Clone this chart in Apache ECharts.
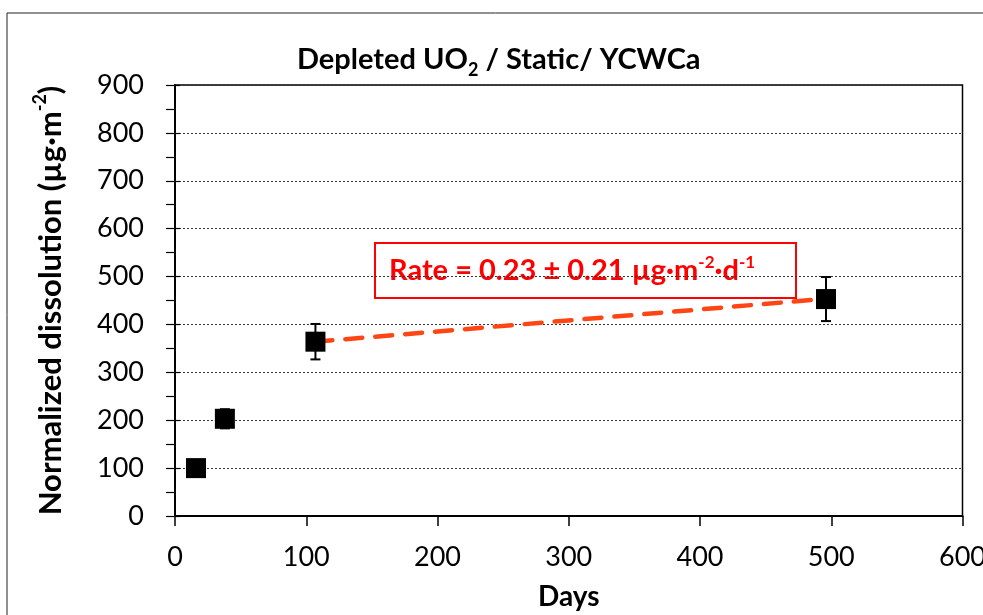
<!DOCTYPE html>
<html>
<head>
<meta charset="utf-8">
<script src="https://cdn.jsdelivr.net/npm/echarts@6/dist/echarts.min.js"></script>
<style>
  html, body { margin: 0; padding: 0; background: #fff; }
  #chart { width: 983px; height: 615px; }
</style>
</head>
<body>
<div id="chart"></div>
<script>
// Measured dissolution of depleted UO2 under static YCWCa conditions
const days = [16, 38, 107, 496];
const dissolution = [100, 203, 364, 453];
const dissolutionErr = [8, 20, 37, 46];

// Linear fit over the later points (rate 0.23 µg·m⁻²·d⁻¹)
const fitDays = [107, 496];
const fitValues = [364, 453.5];

const xTicks = [0, 100, 200, 300, 400, 500, 600];
const yTicks = [0, 100, 200, 300, 400, 500, 600, 700, 800, 900];

const FONT = 'Lato';

const chart = echarts.init(document.getElementById('chart'), null, { renderer: 'canvas' });

const points = days.map((d, i) => [d, dissolution[i]]);
const errRows = days.map((d, i) => [d, dissolution[i] - dissolutionErr[i], dissolution[i] + dissolutionErr[i]]);
const fitLine = fitDays.map((d, i) => [d, fitValues[i]]);

const option = {
  backgroundColor: '#fff',
  animation: false,
  title: {
    text: '{b|Depleted UO}{s|2}{b| / Static/ YCWCa}',
    left: 292,
    top: 36,
    textStyle: {
      rich: {
        b: { fontFamily: FONT, fontWeight: 'bold', fontSize: 29, color: '#000', lineHeight: 38 },
        s: { fontFamily: FONT, fontWeight: 'bold', fontSize: 18, color: '#000', verticalAlign: 'bottom', lineHeight: 38 }
      }
    }
  },
  grid: {
    left: 175, top: 85, right: 20.5, bottom: 99,
    outerBoundsMode: 'none',
    containLabel: false,
    show: true, borderColor: '#000', borderWidth: 1.5
  },
  xAxis: {
    type: 'value',
    min: xTicks[0], max: xTicks[xTicks.length - 1], interval: 100,
    name: 'Days',
    nameLocation: 'middle',
    nameGap: 67,
    nameTextStyle: { fontFamily: FONT, fontWeight: 'bold', fontSize: 28, color: '#000' },
    axisLine: { show: true, onZero: false, lineStyle: { color: '#000', width: 2 } },
    axisTick: { show: true, inside: false, length: 10, lineStyle: { color: '#000', width: 1.5 } },
    axisLabel: { fontFamily: FONT, fontSize: 27, color: '#000', margin: 28 },
    splitLine: { show: false }
  },
  yAxis: [{
    type: 'value',
    min: yTicks[0], max: yTicks[yTicks.length - 1], interval: 100,
    name: '{b|Normalized dissolution (µg·m}{s|-2}{b|)}',
    nameLocation: 'middle',
    nameGap: 104,
    nameRotate: 90,
    nameTextStyle: {
      rich: {
        b: { fontFamily: FONT, fontWeight: 'bold', fontSize: 31, color: '#000', lineHeight: 40 },
        s: { fontFamily: FONT, fontWeight: 'bold', fontSize: 18, color: '#000', verticalAlign: 'top', lineHeight: 40 }
      }
    },
    axisLine: { show: true, lineStyle: { color: '#000', width: 2 } },
    axisTick: { show: true, inside: false, length: 9, lineStyle: { color: '#000', width: 1.2 } },
    minorTick: { show: true, splitNumber: 2, length: 9, lineStyle: { color: '#000', width: 1.2 } },
    axisLabel: { fontFamily: FONT, fontSize: 27, color: '#000', margin: 31 },
    splitLine: { show: true, lineStyle: { color: '#333', width: 1, type: [2, 2] } }
  }, {
    // short inner half of the major tick marks
    type: 'value',
    position: 'left',
    min: yTicks[0], max: yTicks[yTicks.length - 1], interval: 100,
    axisLine: { show: false },
    axisTick: { show: true, inside: true, length: 5, lineStyle: { color: '#000', width: 1.2 } },
    axisLabel: { show: false },
    splitLine: { show: false }
  }],
  graphic: [
    {
      type: 'rect',
      silent: true,
      shape: { x: 7, y: 13, width: 1000, height: 700 },
      style: { fill: 'none', stroke: '#222', lineWidth: 1 },
      z: 0
    },
    {
      type: 'group',
      left: 374, top: 242,
      z: 50,
      children: [
        {
          type: 'rect',
          shape: { x: 0, y: 0, width: 421, height: 55 },
          style: { fill: '#fff', stroke: '#ff0000', lineWidth: 2 }
        },
        {
          type: 'text',
          x: 14, y: 28,
          style: {
            text: '{r|Rate = 0.23 ± 0.21 µg·m}{s|-2}{r|·d}{s|-1}',
            verticalAlign: 'middle',
            rich: {
              r: { fontFamily: FONT, fontWeight: 'bold', fontSize: 29, fill: '#ff0000', lineHeight: 34 },
              s: { fontFamily: FONT, fontWeight: 'bold', fontSize: 17, fill: '#ff0000', verticalAlign: 'top', lineHeight: 34 }
            }
          }
        }
      ]
    }
  ],
  series: [
    {
      type: 'line',
      data: fitLine,
      showSymbol: false,
      symbol: 'none',
      lineStyle: { color: '#ff4514', width: 4.5, type: [17, 13], cap: 'round' },
      z: 2
    },
    {
      type: 'custom',
      data: errRows,
      renderItem: function (params, api) {
        const x = api.value(0);
        const lo = api.coord([x, api.value(1)]);
        const hi = api.coord([x, api.value(2)]);
        const half = 5;
        const st = { stroke: '#000', lineWidth: 2 };
        return {
          type: 'group',
          children: [
            { type: 'line', shape: { x1: lo[0], y1: lo[1], x2: hi[0], y2: hi[1] }, style: st },
            { type: 'line', shape: { x1: lo[0] - half, y1: lo[1], x2: lo[0] + half, y2: lo[1] }, style: st },
            { type: 'line', shape: { x1: hi[0] - half, y1: hi[1], x2: hi[0] + half, y2: hi[1] }, style: st }
          ]
        };
      },
      z: 3
    },
    {
      type: 'scatter',
      data: points,
      symbol: 'rect',
      symbolSize: 20,
      itemStyle: { color: '#000', opacity: 1 },
      z: 4
    }
  ]
};

chart.setOption(option);
</script>
</body>
</html>
